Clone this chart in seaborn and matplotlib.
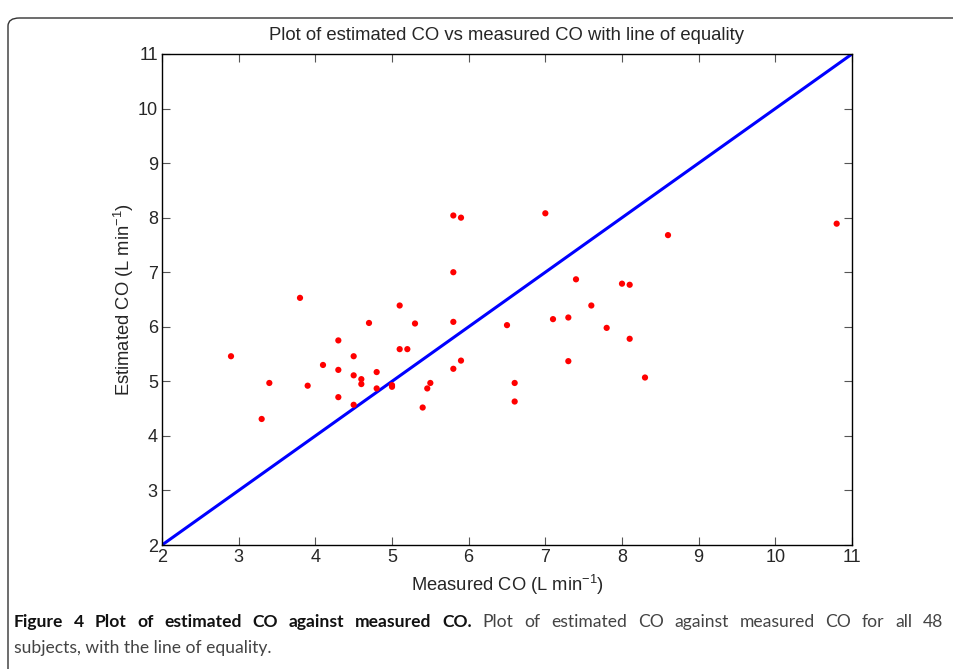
import matplotlib
matplotlib.use("Agg")
import matplotlib.pyplot as plt
import seaborn as sns
import pandas as pd
from matplotlib.patches import FancyBboxPatch

measured = [2.9, 3.3, 3.4, 3.8, 3.9, 4.1, 4.3, 4.3, 4.3, 4.5, 4.5, 4.5, 4.6, 4.6,
            4.7, 4.8, 4.8, 5.0, 5.0, 5.1, 5.1, 5.2, 5.3, 5.4, 5.46, 5.5, 5.8, 5.9,
            5.8, 5.8, 5.8, 5.9, 6.5, 6.6, 6.6, 7.0, 7.1, 7.3, 7.3, 7.4, 7.6, 7.8,
            8.0, 8.1, 8.1, 8.3, 8.6, 10.8]
estimated = [5.46, 4.31, 4.97, 6.53, 4.92, 5.30, 5.75, 5.21, 4.71, 5.46, 5.11, 4.57,
             5.04, 4.95, 6.07, 5.17, 4.87, 4.93, 4.90, 6.39, 5.59, 5.59, 6.06, 4.52,
             4.87, 4.97, 8.04, 8.00, 7.00, 6.09, 5.23, 5.38, 6.03, 4.97, 4.63, 8.08,
             6.14, 6.17, 5.37, 6.87, 6.39, 5.98, 6.79, 6.77, 5.78, 5.07, 7.68, 7.89]
equality_x = [2, 11]
equality_y = [2, 11]
ticks = [2, 3, 4, 5, 6, 7, 8, 9, 10, 11]

title = "Plot of estimated CO vs measured CO with line of equality"
xlabel = "Measured CO (L min$^{-1}$)"
ylabel = "Estimated CO (L min$^{-1}$)"
cap_bold = "Figure 4 Plot of estimated CO against measured CO."
cap_rest1 = "Plot of estimated CO against measured CO for all 48"
cap_rest2 = "subjects, with the line of equality."

sns.set_theme(style="white")
plt.rcParams['font.family'] = ['Liberation Sans', 'DejaVu Sans']
plt.rcParams['mathtext.fontset'] = 'custom'
plt.rcParams['mathtext.rm'] = 'Liberation Sans'
plt.rcParams['mathtext.it'] = 'Liberation Sans'

fig = plt.figure(figsize=(9.54, 6.69), dpi=100)
ax = fig.add_axes([162/954, 1 - 545/669, 690/954, 491/669])

df = pd.DataFrame({"measured": measured, "estimated": estimated})
line_df = pd.DataFrame({"x": equality_x, "y": equality_y})
sns.lineplot(data=line_df, x="x", y="y", ax=ax, color="#0000ff", linewidth=2.2, zorder=2)
sns.scatterplot(data=df, x="measured", y="estimated", ax=ax, color="#ff0000",
                s=20, edgecolor="none", zorder=3)

ax.set_xlim(2, 11)
ax.set_ylim(2, 11)
ax.set_xticks(ticks)
ax.set_yticks(ticks)
ax.set_xticklabels([str(t) for t in ticks])
ax.set_yticklabels([str(t) for t in ticks])
ax.tick_params(direction="in", length=6, width=0.8, color="#555555", labelsize=13,
               top=True, right=True, bottom=True, left=True, pad=3)
for s in ax.spines.values():
    s.set_color("black")
    s.set_linewidth(1.0)
ax.set_title(title, fontsize=13.3, pad=10)
ax.set_xlabel(xlabel, fontsize=13.2, labelpad=5)
ax.set_ylabel(ylabel, fontsize=13.2, labelpad=1)

# border box
box = FancyBboxPatch((8/954, -0.05), 1.2, (669-18)/669 + 0.05,
                     boxstyle="round,pad=0,rounding_size=0.012",
                     transform=fig.transFigure, fill=False, edgecolor="#333333",
                     linewidth=1.0, clip_on=False)
fig.patches.append(box)

# caption (first line justified)
cap_font = ['Lato', 'DejaVu Sans']
fs = 12.6
W = fig.bbox.width
y1 = 1 - 627/669
y2 = 1 - 653/669
words = [(w, True) for w in cap_bold.split()] + [(w, False) for w in cap_rest1.split()]
r = fig.canvas.get_renderer()
texts = []
for w, b in words:
    t = fig.text(0, y1, w, fontsize=fs, fontweight="bold" if b else "normal",
                 family=cap_font, va="baseline",
                 color="#111111" if b else "#444444")
    texts.append(t)
fig.canvas.draw()
widths = [t.get_window_extent(renderer=r).width for t in texts]
left, right = 14, 943
gap = (right - left - sum(widths)) / (len(widths) - 1)
x = left
for t, wd in zip(texts, widths):
    t.set_x(x / W)
    x += wd + gap
fig.text(left / W, y2, cap_rest2, fontsize=fs, family=cap_font,
         va="baseline", color="#444444")

fig.savefig("out.png", dpi=100)
